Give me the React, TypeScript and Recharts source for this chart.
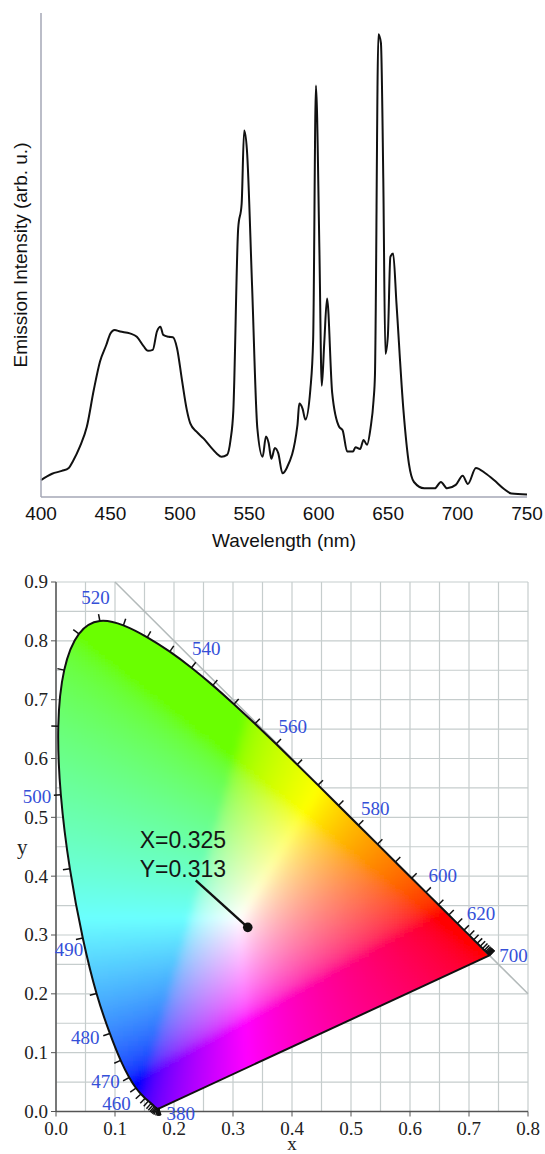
import React from 'react';
import {
  LineChart,
  Line,
  ComposedChart,
  Scatter,
  XAxis,
  YAxis,
  ReferenceArea,
  ReferenceLine,
  ReferenceDot,
} from 'recharts';

// ---- emission spectrum ----
const wavelengths = [
  400, 408, 415, 420, 423, 428, 433, 438, 442.5, 447,
  450, 453, 457, 464, 469, 474, 477, 480.5, 483.5, 486,
  488, 492, 495, 498, 501.5, 505, 507.5, 512, 517, 522,
  526.5, 530, 534, 536.5, 538.5, 542, 544.5, 546.3, 548.3, 552,
  555.8, 559.6, 562, 563.9, 565.9, 568.4, 570.9, 573.9, 577, 584.7,
  586, 588.4, 590.4, 594, 596, 598, 600.5, 602.2, 604, 606,
  609.7, 614.7, 617.2, 620.5, 624.7, 626.5, 629.8, 632.3, 634.8, 637.3,
  639.5, 640.5, 643, 644.8, 646.5, 648, 649.8, 651.6, 653.6, 656,
  661, 665, 668.6, 676, 683.6, 688, 692.4, 698.7, 703.7, 707.4,
  713.2, 720, 726.2, 733.7, 738.8, 750,
];
const intensities = [
  3.5, 4.8, 5.4, 6.0, 7.4, 10.4, 14.5, 22.1, 28, 31.4,
  33.8, 34.5, 34.2, 33.8, 33.1, 31.1, 30.2, 30.4, 34.2, 35.2,
  33.5, 33.1, 33, 30.7, 24.2, 18, 15.2, 13.5, 12.1, 10.4,
  9, 8.3, 8.7, 11.8, 17.8, 55.5, 60.6, 75.7, 71.7, 43.7,
  14.2, 8.3, 12.5, 11.2, 7.9, 10.1, 9, 4.9, 6, 14.9,
  19.3, 18.2, 16, 22.3, 32.6, 85, 51, 23, 31.9, 41,
  21.5, 14.5, 13.8, 9.4, 9.4, 10.3, 9.9, 11.8, 10.8, 14.2,
  20, 25.2, 95.6, 93.8, 65.8, 29.6, 33.3, 49.6, 50.3, 40,
  18, 6.8, 3.1, 1.8, 1.8, 3.1, 1.8, 2.5, 4.4, 2.7,
  6, 4.9, 3.5, 1.6, 0.7, 0.5,
];
const wavelengthTicks = [400, 450, 500, 550, 600, 650, 700, 750];

// ---- CIE 1931 spectral locus (5 nm steps) ----
const locusNm = [
  380, 385, 390, 395, 400, 405, 410, 415, 420, 425, 430, 435, 440,
  445, 450, 455, 460, 465, 470, 475, 480, 485, 490, 495, 500, 505,
  510, 515, 520, 525, 530, 535, 540, 545, 550, 555, 560, 565, 570,
  575, 580, 585, 590, 595, 600, 605, 610, 615, 620, 625, 630, 635,
  640, 645, 650, 655, 660, 665, 670, 675, 680, 685, 690, 695, 700,
];
const locusX = [
  0.1741, 0.174, 0.1738, 0.1736, 0.1733, 0.173, 0.1726, 0.1721, 0.1714, 0.1703, 0.1689, 0.1669, 0.1644,
  0.1611, 0.1566, 0.151, 0.144, 0.1355, 0.1241, 0.1096, 0.0913, 0.0687, 0.0454, 0.0235, 0.0082, 0.0039,
  0.0139, 0.0389, 0.0743, 0.1142, 0.1547, 0.1929, 0.2296, 0.2658, 0.3016, 0.3373, 0.3731, 0.4087, 0.4441,
  0.4788, 0.5125, 0.5448, 0.5752, 0.6029, 0.627, 0.6482, 0.6658, 0.6801, 0.6915, 0.7006, 0.7079, 0.714,
  0.719, 0.723, 0.726, 0.7283, 0.73, 0.7311, 0.732, 0.7327, 0.7334, 0.734, 0.7344, 0.7346, 0.7347,
];
const locusY = [
  0.005, 0.005, 0.0049, 0.0049, 0.0048, 0.0048, 0.0048, 0.0048, 0.0051, 0.0058, 0.0069, 0.0086, 0.0109,
  0.0138, 0.0177, 0.0227, 0.0297, 0.0399, 0.0578, 0.0868, 0.1327, 0.2007, 0.295, 0.4127, 0.5384, 0.6548,
  0.7502, 0.812, 0.8338, 0.8262, 0.8059, 0.7816, 0.7543, 0.7243, 0.6923, 0.6589, 0.6245, 0.5896, 0.5547,
  0.5202, 0.4866, 0.4544, 0.4242, 0.3965, 0.3725, 0.3514, 0.334, 0.3197, 0.3083, 0.2993, 0.292, 0.2859,
  0.2809, 0.277, 0.274, 0.2717, 0.27, 0.2689, 0.268, 0.2673, 0.2666, 0.266, 0.2656, 0.2654, 0.2653,
];
const labelledNm = [380, 460, 470, 480, 490, 500, 520, 540, 560, 580, 600, 620, 700];

const whitePointX = 0.325;
const whitePointY = 0.313;

const cieXTicks = [0, 0.1, 0.2, 0.3, 0.4, 0.5, 0.6, 0.7, 0.8];
const cieYTicks = [0, 0.1, 0.2, 0.3, 0.4, 0.5, 0.6, 0.7, 0.8, 0.9];
const X_MAX = 0.8;
const Y_MAX = 0.9;
const GRID_STEP = 0.05;

const SANS = '"Liberation Sans", Arial, sans-serif';
const SERIF = '"Liberation Serif", "Times New Roman", serif';
const LABEL_BLUE = '#3550d8';

const spectrum = wavelengths.map((w, i) => ({ wavelength: w, intensity: intensities[i] }));

// outward normal of the locus (clockwise in x/y), used for ticks and labels
const locusPoints = locusNm.map((nm, i) => {
  const a = Math.max(0, i - 1);
  const b = Math.min(locusNm.length - 1, i + 1);
  const tx = locusX[b] - locusX[a];
  const ty = locusY[b] - locusY[a];
  const len = Math.hypot(tx, ty) || 1;
  return { nm, x: locusX[i], y: locusY[i], nx: -ty / len, ny: tx / len };
});
const first = locusPoints[0];
const last = locusPoints[locusPoints.length - 1];

// label direction tweaks where the normal is ill-defined or crowded (px units, screen y down)
const labelDir: Record<number, [number, number, number]> = {
  380: [1, 0.22, 22],
  700: [1, 0, 24],
  490: [-0.76, 0.65, 18],
  480: [-0.98, 0.18, 25],
  470: [-0.985, 0.17, 24],
  460: [-0.94, 0.35, 26],
};

function chromaColor(x: number, y: number): string {
  const yy = Math.max(y, 0.002);
  const X = x / yy;
  const Z = (1 - x - yy) / yy;
  const r = Math.max(0, 3.2406 * X - 1.5372 - 0.4986 * Z);
  const g = Math.max(0, -0.9689 * X + 1.8758 + 0.0415 * Z);
  const b = Math.max(0, 0.0557 * X - 0.204 + 1.057 * Z);
  const m = Math.max(r, g, b, 1e-6);
  const enc = (c: number) => {
    const v = c / m;
    const s = v <= 0.0031308 ? 12.92 * v : 1.055 * Math.pow(v, 1 / 2.4) - 0.055;
    return Math.min(1, Math.max(0, s));
  };
  let R = enc(r);
  const G = enc(g);
  const B = enc(b);
  // warm the greens/cyans a little (lime rather than pure green)
  R = R + 0.42 * G * (1 - R);
  const to255 = (c: number) => Math.round(255 * c);
  return `rgb(${to255(R)},${to255(G)},${to255(B)})`;
}

// smooth closed path through points (Catmull-Rom as cubic Beziers)
function smoothPath(pts: [number, number][]): string {
  const n = pts.length;
  let d = `M${pts[0][0]},${pts[0][1]}`;
  for (let i = 0; i < n - 1; i++) {
    const p0 = pts[Math.max(0, i - 1)];
    const p1 = pts[i];
    const p2 = pts[i + 1];
    const p3 = pts[Math.min(n - 1, i + 2)];
    const c1x = p1[0] + (p2[0] - p0[0]) / 6;
    const c1y = p1[1] + (p2[1] - p0[1]) / 6;
    const c2x = p2[0] - (p3[0] - p1[0]) / 6;
    const c2y = p2[1] - (p3[1] - p1[1]) / 6;
    d += `C${c1x},${c1y} ${c2x},${c2y} ${p2[0]},${p2[1]}`;
  }
  return d + 'Z';
}

// grid + colour-filled horseshoe, laid out from the reference area's pixel rect
function Backdrop(props: any) {
  const { x, y, width, height } = props;
  const sx = width / X_MAX;
  const sy = height / Y_MAX;
  const px = (v: number) => x + v * sx;
  const py = (v: number) => y + height - v * sy;

  const vLines: number[] = [];
  for (let i = 0; i <= Math.round(X_MAX / GRID_STEP); i++) vLines.push(i * GRID_STEP);
  const hLines: number[] = [];
  for (let i = 0; i <= Math.round(Y_MAX / GRID_STEP); i++) hLines.push(i * GRID_STEP);

  const outline = smoothPath(locusPoints.map((p) => [px(p.x), py(p.y)] as [number, number]));
  const left = px(Math.min(...locusX)) - 10;
  const right = px(Math.max(...locusX)) + 10;
  const top = py(Math.max(...locusY)) - 10;
  const bottom = py(Math.min(...locusY)) + 10;
  const cell = 5;
  const cells: React.ReactNode[] = [];
  for (let cy = top; cy < bottom; cy += cell) {
    for (let cx = left; cx < right; cx += cell) {
      const dx = (cx + cell / 2 - x) / sx;
      const dy = (y + height - (cy + cell / 2)) / sy;
      cells.push(
        <rect key={`${cx}-${cy}`} x={cx} y={cy} width={cell + 0.6} height={cell + 0.6} fill={chromaColor(dx, dy)} />
      );
    }
  }

  return (
    <g>
      <defs>
        <clipPath id="locus-clip">
          <path d={outline} />
        </clipPath>
        <filter id="soften" x="-5%" y="-5%" width="110%" height="110%">
          <feGaussianBlur stdDeviation="3" />
        </filter>
      </defs>
      {vLines.map((v) => (
        <line key={`v${v}`} x1={px(v)} x2={px(v)} y1={py(0)} y2={py(Y_MAX)} stroke="#c6cdcd" strokeWidth={1.2} />
      ))}
      {hLines.map((v) => (
        <line key={`h${v}`} x1={px(0)} x2={px(X_MAX)} y1={py(v)} y2={py(v)} stroke="#c6cdcd" strokeWidth={1.2} />
      ))}
      <g clipPath="url(#locus-clip)">
        <g filter="url(#soften)" shapeRendering="crispEdges">{cells}</g>
      </g>
    </g>
  );
}

function LocusTick(props: any) {
  const { cx, cy, payload } = props;
  if (!payload) return <g />;
  const ux = payload.nx;
  const uy = -payload.ny;
  const len = 7;
  const tick = (
    <line x1={cx} y1={cy} x2={cx + ux * len} y2={cy + uy * len} stroke="#111" strokeWidth={1.5} />
  );
  if (!labelledNm.includes(payload.nm)) return <g>{tick}</g>;
  const [lx, ly, dist] = labelDir[payload.nm] ?? [ux, uy, 24];
  return (
    <g>
      {tick}
      <text
        x={cx + lx * dist}
        y={cy + ly * dist}
        textAnchor="middle"
        dominantBaseline="central"
        fontFamily={SERIF}
        fontSize={19}
        fill={LABEL_BLUE}
      >
        {payload.nm}
      </text>
    </g>
  );
}

function WhitePoint(props: any) {
  const { cx, cy } = props;
  return (
    <g>
      <line x1={cx - 52} y1={cy - 47} x2={cx} y2={cy} stroke="#111" strokeWidth={2.4} />
      <circle cx={cx} cy={cy} r={4.8} fill="#111" />
      <text x={cx - 108} y={cy - 87} dominantBaseline="central" fontFamily={SANS} fontSize={23} fill="#151515">
        {`X=${whitePointX.toFixed(3)}`}
      </text>
      <text x={cx - 108} y={cy - 58} dominantBaseline="central" fontFamily={SANS} fontSize={23} fill="#151515">
        {`Y=${whitePointY.toFixed(3)}`}
      </text>
    </g>
  );
}

function SerifTickX(props: any) {
  const { x, y, payload } = props;
  return (
    <text x={x} y={y} dy="0.71em" textAnchor="middle" fontFamily={SERIF} fontSize={19} fill="#222">
      {Number(payload.value).toFixed(1)}
    </text>
  );
}

function SerifTickY(props: any) {
  const { x, y, payload } = props;
  return (
    <text x={x} y={y} dy="0.34em" textAnchor="end" fontFamily={SERIF} fontSize={19} fill="#222">
      {Number(payload.value).toFixed(1)}
    </text>
  );
}

function SpectrumChart() {
  return (
    <LineChart width={545} height={560} data={spectrum} margin={{ top: 13, right: 18, bottom: 0, left: 0 }}>
      <XAxis
        dataKey="wavelength"
        type="number"
        domain={[400, 750]}
        ticks={wavelengthTicks}
        interval={0}
        height={63}
        tickLine={false}
        tickSize={6}
        tickMargin={4}
        axisLine={{ stroke: '#a4a7b6', strokeWidth: 1.5 }}
        tick={{ fill: '#111', fontSize: 19, fontFamily: SANS }}
        label={{ value: 'Wavelength (nm)', position: 'insideBottom', offset: 13, fill: '#111', fontSize: 19, fontFamily: SANS }}
      />
      <YAxis
        type="number"
        domain={[0, 100]}
        width={41}
        tick={false}
        tickLine={false}
        axisLine={{ stroke: '#a4a7b6', strokeWidth: 1.5 }}
        label={{ value: 'Emission Intensity (arb. u.)', angle: -90, position: 'center', fill: '#111', fontSize: 19, fontFamily: SANS }}
      />
      <Line
        type="monotone"
        dataKey="intensity"
        stroke="#111"
        strokeWidth={2}
        dot={false}
        isAnimationActive={false}
      />
    </LineChart>
  );
}

function ChromaticityChart() {
  return (
    <ComposedChart width={545} height={594} margin={{ top: 22, right: 17, bottom: 0, left: 0 }}>
      <XAxis
        dataKey="x"
        type="number"
        domain={[0, X_MAX]}
        ticks={cieXTicks}
        interval={0}
        height={42.5}
        tickSize={5}
        tickMargin={5}
        axisLine={{ stroke: '#555', strokeWidth: 1.5 }}
        tickLine={{ stroke: '#555' }}
        tick={(p: any) => <SerifTickX {...p} />}
        label={{ value: 'x', position: 'insideBottom', offset: 4, fill: '#222', fontSize: 19, fontFamily: SERIF }}
      />
      <YAxis
        dataKey="y"
        type="number"
        domain={[0, Y_MAX]}
        ticks={cieYTicks}
        interval={0}
        width={56}
        tickSize={5}
        tickMargin={3}
        axisLine={{ stroke: '#555', strokeWidth: 1.5 }}
        tickLine={{ stroke: '#555' }}
        tick={(p: any) => <SerifTickY {...p} />}
        label={{ value: 'y', position: 'insideLeft', offset: 17, fill: '#222', fontSize: 21, fontFamily: SERIF }}
      />
      <ReferenceArea x1={0} x2={X_MAX} y1={0} y2={Y_MAX} shape={(p: any) => <Backdrop {...p} />} />
      <ReferenceLine
        segment={[{ x: 0.1, y: 0.9 }, { x: 0.8, y: 0.2 }]}
        stroke="#b3baba"
        strokeWidth={1.5}
      />
      {/* line of purples */}
      <ReferenceLine
        segment={[{ x: first.x, y: first.y }, { x: last.x, y: last.y }]}
        stroke="#111"
        strokeWidth={2}
      />
      <Line
        data={locusPoints}
        dataKey="y"
        type="natural"
        stroke="#111"
        strokeWidth={2}
        dot={false}
        activeDot={false}
        isAnimationActive={false}
      />
      <Scatter
        data={locusPoints}
        dataKey="y"
        shape={(p: any) => <LocusTick {...p} />}
        isAnimationActive={false}
      />
      <ReferenceDot x={whitePointX} y={whitePointY} shape={(p: any) => <WhitePoint {...p} />} />
    </ComposedChart>
  );
}

export default function App() {
  return (
    <div style={{ position: 'absolute', left: 0, top: 0, width: 545, height: 1154, background: '#fff', overflow: 'hidden' }}>
      <div style={{ position: 'absolute', left: 0, top: 0 }}>
        <SpectrumChart />
      </div>
      <div style={{ position: 'absolute', left: 0, top: 560 }}>
        <ChromaticityChart />
      </div>
    </div>
  );
}
